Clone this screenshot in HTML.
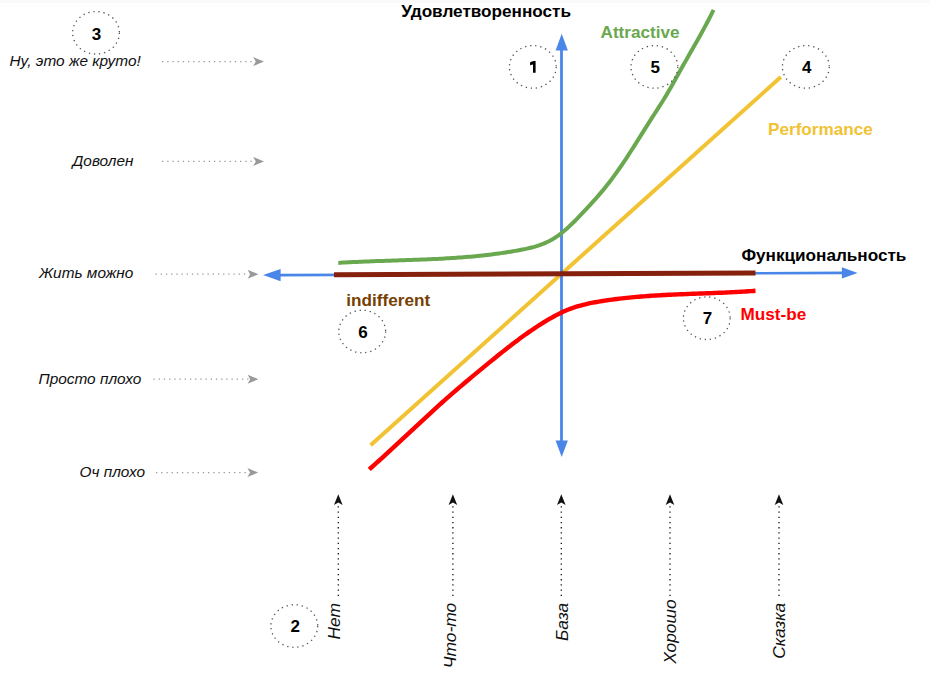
<!DOCTYPE html>
<html><head><meta charset="utf-8"><style>
html,body{margin:0;padding:0;background:#fff;width:930px;height:673px;overflow:hidden}
svg{display:block}
text{font-family:"Liberation Sans",sans-serif}
.b{font-weight:bold;font-size:17.15px}
.num{font-weight:bold;font-size:17px;fill:#000}
.il{font-style:italic;font-size:15.4px}
.ib{font-style:italic;font-size:17.4px}
</style></head><body>
<svg width="930" height="673" viewBox="0 0 930 673">
<rect x="0" y="0" width="930" height="3.2" fill="#f9f9f9"/><rect x="0" y="5" width="930" height="2" fill="#fdfdfd"/>
<line x1="370.6" y1="445.2" x2="780.8" y2="77" stroke="#f1c232" stroke-width="4"/>
<line x1="561.5" y1="48" x2="561.5" y2="443" stroke="#4a86e8" stroke-width="2.8"/>
<path d="M561.7,33.8 L567.9,50.5 L555.6,50.5 Z" fill="#4a86e8"/>
<path d="M561.7,457 L567.9,440.4 L555.6,440.4 Z" fill="#4a86e8"/>
<line x1="278" y1="275.1" x2="844" y2="272.9" stroke="#4a86e8" stroke-width="2.6"/>
<path d="M263.1,275.1 L280.6,269 L280.6,281.2 Z" fill="#4a86e8"/>
<path d="M857.6,272.9 L841.9,267.2 L841.9,278.5 Z" fill="#4a86e8"/>
<polyline points="338.30,262.89 340.66,262.74 343.02,262.60 345.38,262.47 347.74,262.34 350.10,262.22 352.46,262.10 354.82,261.99 357.18,261.88 359.54,261.77 361.90,261.67 364.26,261.57 366.62,261.48 368.98,261.38 371.35,261.29 373.71,261.21 376.07,261.12 378.43,261.04 380.79,260.96 383.15,260.88 385.51,260.80 387.87,260.73 390.23,260.65 392.59,260.58 394.95,260.50 397.31,260.43 399.67,260.35 402.03,260.27 404.39,260.20 406.75,260.12 409.11,260.04 411.47,259.96 413.83,259.87 416.19,259.79 418.55,259.70 420.91,259.61 423.27,259.52 425.63,259.42 427.99,259.32 430.35,259.22 432.72,259.11 435.08,259.00 437.44,258.88 439.80,258.76 442.16,258.64 444.52,258.51 446.88,258.37 449.24,258.23 451.60,258.08 453.96,257.93 456.32,257.77 458.68,257.60 461.04,257.43 463.40,257.24 465.76,257.05 468.12,256.86 470.48,256.65 472.84,256.44 475.20,256.22 477.56,255.99 479.92,255.75 482.28,255.50 484.64,255.24 487.00,254.97 489.36,254.69 491.72,254.40 494.08,254.10 496.45,253.79 498.81,253.47 501.17,253.14 503.53,252.79 505.89,252.44 508.25,252.07 510.61,251.68 512.97,251.29 515.33,250.88 517.69,250.46 520.05,250.03 522.41,249.58 524.77,249.10 527.13,248.60 529.49,248.05 531.85,247.46 534.21,246.82 536.57,246.12 538.93,245.35 541.29,244.50 543.65,243.57 546.01,242.55 548.37,241.44 550.73,240.22 553.09,238.89 555.45,237.44 557.82,235.86 560.18,234.15 562.54,232.30 564.90,230.33 567.26,228.24 569.62,226.06 571.98,223.79 574.34,221.46 576.70,219.08 579.06,216.66 581.42,214.19 583.78,211.69 586.14,209.16 588.50,206.61 590.86,204.03 593.22,201.43 595.58,198.80 597.94,196.12 600.30,193.39 602.66,190.60 605.02,187.74 607.38,184.80 609.74,181.77 612.10,178.64 614.46,175.43 616.82,172.13 619.18,168.76 621.55,165.33 623.91,161.83 626.27,158.28 628.63,154.67 630.99,151.03 633.35,147.35 635.71,143.64 638.07,139.91 640.43,136.17 642.79,132.41 645.15,128.65 647.51,124.90 649.87,121.16 652.23,117.43 654.59,113.73 656.95,110.05 659.31,106.41 661.67,102.74 664.03,98.99 666.39,95.11 668.75,91.10 671.11,86.99 673.47,82.80 675.83,78.57 678.19,74.31 680.55,70.06 682.92,65.82 685.28,61.64 687.64,57.48 690.00,53.35 692.36,49.21 694.72,45.07 697.08,40.91 699.44,36.71 701.80,32.45 704.16,28.13 706.52,23.72 708.88,19.22 711.24,14.61 713.60,9.87" fill="none" stroke="#6aa84f" stroke-width="4" stroke-linejoin="round"/>
<polyline points="369.20,469.36 371.63,467.24 374.06,465.09 376.49,462.94 378.92,460.76 381.35,458.57 383.78,456.37 386.21,454.16 388.64,451.94 391.07,449.70 393.50,447.46 395.93,445.21 398.35,442.95 400.78,440.69 403.21,438.43 405.64,436.16 408.07,433.89 410.50,431.61 412.93,429.34 415.36,427.07 417.79,424.80 420.22,422.54 422.65,420.28 425.08,418.02 427.51,415.78 429.94,413.54 432.37,411.31 434.80,409.09 437.23,406.88 439.66,404.68 442.09,402.50 444.52,400.33 446.95,398.18 449.38,396.04 451.81,393.93 454.23,391.82 456.66,389.73 459.09,387.65 461.52,385.59 463.95,383.53 466.38,381.49 468.81,379.45 471.24,377.42 473.67,375.40 476.10,373.39 478.53,371.38 480.96,369.38 483.39,367.38 485.82,365.38 488.25,363.39 490.68,361.41 493.11,359.43 495.54,357.47 497.97,355.51 500.40,353.57 502.83,351.63 505.26,349.72 507.68,347.82 510.11,345.93 512.54,344.07 514.97,342.22 517.40,340.40 519.83,338.60 522.26,336.82 524.69,335.06 527.12,333.34 529.55,331.64 531.98,329.97 534.41,328.33 536.84,326.72 539.27,325.14 541.70,323.60 544.13,322.09 546.56,320.62 548.99,319.19 551.42,317.80 553.85,316.46 556.28,315.17 558.71,313.93 561.14,312.74 563.56,311.62 565.99,310.55 568.42,309.55 570.85,308.62 573.28,307.76 575.71,306.95 578.14,306.20 580.57,305.51 583.00,304.87 585.43,304.27 587.86,303.71 590.29,303.19 592.72,302.71 595.15,302.25 597.58,301.82 600.01,301.41 602.44,301.02 604.87,300.64 607.30,300.28 609.73,299.93 612.16,299.59 614.59,299.27 617.02,298.96 619.44,298.67 621.87,298.38 624.30,298.11 626.73,297.85 629.16,297.60 631.59,297.36 634.02,297.13 636.45,296.91 638.88,296.71 641.31,296.51 643.74,296.32 646.17,296.13 648.60,295.96 651.03,295.80 653.46,295.64 655.89,295.49 658.32,295.34 660.75,295.20 663.18,295.07 665.61,294.94 668.04,294.82 670.47,294.70 672.89,294.59 675.32,294.48 677.75,294.38 680.18,294.28 682.61,294.18 685.04,294.09 687.47,293.99 689.90,293.90 692.33,293.81 694.76,293.72 697.19,293.64 699.62,293.55 702.05,293.46 704.48,293.37 706.91,293.28 709.34,293.20 711.77,293.10 714.20,293.01 716.63,292.92 719.06,292.82 721.49,292.72 723.92,292.62 726.35,292.51 728.77,292.40 731.20,292.28 733.63,292.16 736.06,292.04 738.49,291.91 740.92,291.77 743.35,291.63 745.78,291.48 748.21,291.32 750.64,291.16 753.07,290.98 755.50,290.80" fill="none" stroke="#ff0000" stroke-width="4.4" stroke-linejoin="round"/>
<line x1="334" y1="274.8" x2="755.5" y2="273.1" stroke="#85200c" stroke-width="5"/>
<ellipse cx="96" cy="32.8" rx="23.4" ry="21.3" fill="none" stroke="#555" stroke-width="1.3" stroke-dasharray="1.3 3.8"/>
<ellipse cx="532.8" cy="66.9" rx="23.4" ry="21.3" fill="none" stroke="#555" stroke-width="1.3" stroke-dasharray="1.3 3.8"/>
<ellipse cx="654.4" cy="66.9" rx="23.4" ry="21.3" fill="none" stroke="#555" stroke-width="1.3" stroke-dasharray="1.3 3.8"/>
<ellipse cx="805.8" cy="66.9" rx="23.4" ry="21.3" fill="none" stroke="#555" stroke-width="1.3" stroke-dasharray="1.3 3.8"/>
<ellipse cx="362.2" cy="331.5" rx="23.4" ry="21.3" fill="none" stroke="#555" stroke-width="1.3" stroke-dasharray="1.3 3.8"/>
<ellipse cx="706.8" cy="318.2" rx="23.4" ry="21.3" fill="none" stroke="#555" stroke-width="1.3" stroke-dasharray="1.3 3.8"/>
<ellipse cx="294.3" cy="626" rx="23.4" ry="21.3" fill="none" stroke="#555" stroke-width="1.3" stroke-dasharray="1.3 3.8"/>
<text x="96.5" y="39.80" class="num" text-anchor="middle">3</text>
<text x="655.3" y="72.95" class="num" text-anchor="middle">5</text>
<text x="806.65" y="72.95" class="num" text-anchor="middle">4</text>
<text x="362.95" y="337.95" class="num" text-anchor="middle">6</text>
<text x="707.6" y="324.10" class="num" text-anchor="middle">7</text>
<text x="295.3" y="632.10" class="num" text-anchor="middle">2</text>
<path d="M530.1,62.2 L533.5,60.9 L535.6,60.9 L535.6,72.8 L533,72.8 L533,64.4 L530.1,65.3 Z" fill="#000"/>
<line x1="162" y1="61.6" x2="255" y2="61.6" stroke="#9a9a9a" stroke-width="1.3" stroke-dasharray="1.3 3.9"/><path d="M264,61.6 L253.2,57.10 L255.8,61.6 L253.2,66.10 Z" fill="#999"/>
<line x1="162" y1="161.4" x2="255" y2="161.4" stroke="#9a9a9a" stroke-width="1.3" stroke-dasharray="1.3 3.9"/><path d="M264,161.4 L253.2,156.90 L255.8,161.4 L253.2,165.90 Z" fill="#999"/>
<line x1="155.5" y1="274.2" x2="249.39999999999998" y2="274.2" stroke="#9a9a9a" stroke-width="1.3" stroke-dasharray="1.3 3.9"/><path d="M258.4,274.2 L247.59999999999997,269.70 L250.2,274.2 L247.59999999999997,278.70 Z" fill="#999"/>
<line x1="153.5" y1="379.2" x2="249.39999999999998" y2="379.2" stroke="#9a9a9a" stroke-width="1.3" stroke-dasharray="1.3 3.9"/><path d="M258.4,379.2 L247.59999999999997,374.70 L250.2,379.2 L247.59999999999997,383.70 Z" fill="#999"/>
<line x1="156" y1="472.6" x2="249.2" y2="472.6" stroke="#9a9a9a" stroke-width="1.3" stroke-dasharray="1.3 3.9"/><path d="M258.2,472.6 L247.39999999999998,468.10 L250.0,472.6 L247.39999999999998,477.10 Z" fill="#999"/>
<line x1="338.3" y1="596" x2="338.3" y2="504.2" stroke="#111" stroke-width="1.3" stroke-dasharray="1.3 3.9"/><path d="M338.3,494.2 L342.60,505.10 L338.3,502.60 L334.00,505.10 Z" fill="#111"/>
<line x1="452.9" y1="596" x2="452.9" y2="504.2" stroke="#111" stroke-width="1.3" stroke-dasharray="1.3 3.9"/><path d="M452.9,494.2 L457.20,505.10 L452.9,502.60 L448.60,505.10 Z" fill="#111"/>
<line x1="561.3" y1="596" x2="561.3" y2="504.2" stroke="#111" stroke-width="1.3" stroke-dasharray="1.3 3.9"/><path d="M561.3,494.2 L565.60,505.10 L561.3,502.60 L557.00,505.10 Z" fill="#111"/>
<line x1="670" y1="596" x2="670" y2="504.2" stroke="#111" stroke-width="1.3" stroke-dasharray="1.3 3.9"/><path d="M670,494.2 L674.30,505.10 L670,502.60 L665.70,505.10 Z" fill="#111"/>
<line x1="779" y1="596" x2="779" y2="504.2" stroke="#111" stroke-width="1.3" stroke-dasharray="1.3 3.9"/><path d="M779,494.2 L783.30,505.10 L779,502.60 L774.70,505.10 Z" fill="#111"/>
<text x="401.2" y="17" class="b" fill="#000">Удовлетворенность</text>
<text x="741.4" y="261" class="b" fill="#000">Функциональность</text>
<text x="600.5" y="37.5" class="b" fill="#6aa84f">Attractive</text>
<text x="768" y="134.6" class="b" fill="#f1c232">Performance</text>
<text x="346.3" y="306.3" class="b" fill="#783f04">indifferent</text>
<text x="740.5" y="319.8" class="b" fill="#ff0000">Must-be</text>
<text x="9.5" y="66" class="il" fill="#111">Ну, это же круто!</text>
<text x="72.5" y="166" class="il" fill="#111">Доволен</text>
<text x="39" y="278.1" class="il" fill="#111">Жить можно</text>
<text x="38.5" y="384.4" class="il" fill="#111">Просто плохо</text>
<text x="79.5" y="476.9" class="il" fill="#111">Оч плохо</text>
<text transform="translate(340.3,603) rotate(-90)" x="0" y="0" text-anchor="end" class="ib" fill="#111">Нет</text>
<text transform="translate(455.8,602.8) rotate(-90)" x="0" y="0" text-anchor="end" class="ib" fill="#111">Что-то</text>
<text transform="translate(568,602.8) rotate(-90)" x="0" y="0" text-anchor="end" class="ib" fill="#111">База</text>
<text transform="translate(676,599.4) rotate(-90)" x="0" y="0" text-anchor="end" class="ib" fill="#111">Хорошо</text>
<text transform="translate(784.8,602.8) rotate(-90)" x="0" y="0" text-anchor="end" class="ib" fill="#111">Сказка</text>
</svg>
</body></html>
